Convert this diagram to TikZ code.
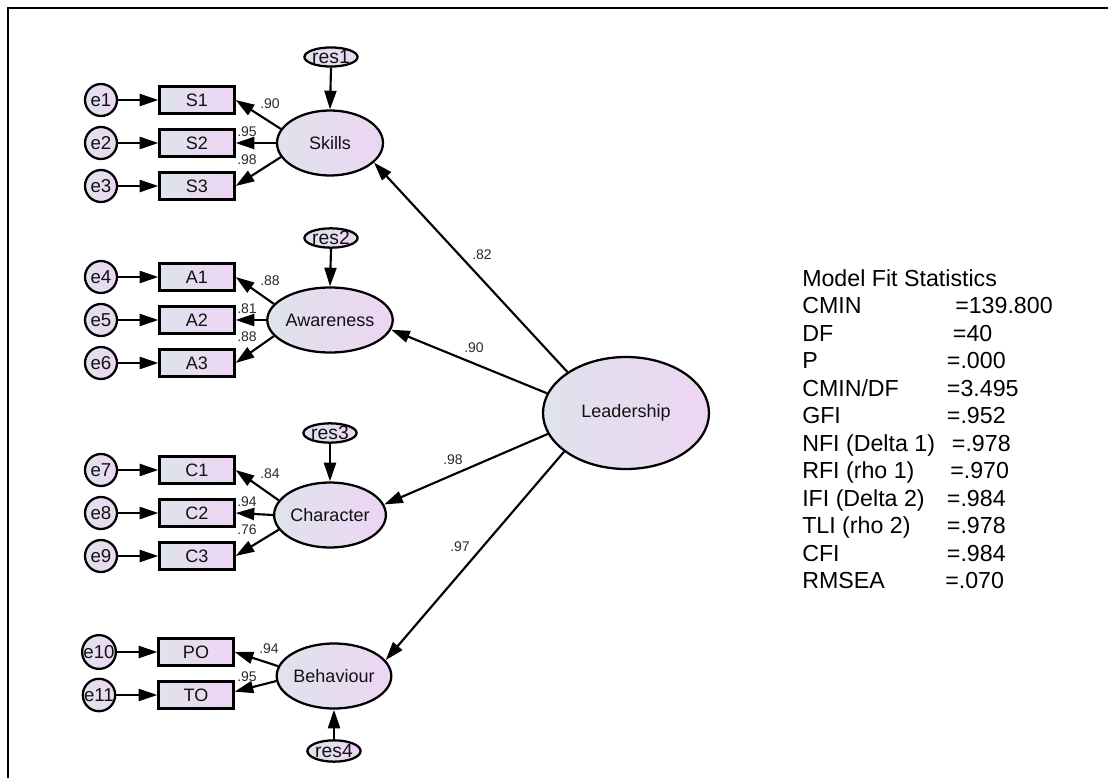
\documentclass[tikz,border=0pt]{standalone}
\usepackage{fontspec}
\setmainfont{Liberation Sans}
\usetikzlibrary{arrows.meta,shapes.geometric}
\definecolor{fillA}{HTML}{DFE3EC}
\definecolor{fillB}{HTML}{EDD5F3}
\definecolor{txt}{HTML}{111111}
\definecolor{lbltxt}{HTML}{2A2A2A}
\begin{document}
\begin{tikzpicture}[x=0.75pt,y=-0.75pt,
  shapebase/.style={draw=black, line width=1.7pt, left color=fillA, right color=fillB, inner sep=0pt, text=txt, font=\fontsize{13.5}{15}\selectfont},
  lat/.style={shapebase, ellipse, minimum width=79.5pt, minimum height=48.75pt},
  lead/.style={shapebase, ellipse, minimum width=124.5pt, minimum height=84pt},
  obs/.style={shapebase, rectangle, minimum width=56.25pt, minimum height=20.25pt},
  err/.style={shapebase, circle, minimum size=24pt, font=\fontsize{14}{15}\selectfont},
  resid/.style={shapebase, ellipse, minimum width=31.5pt, minimum height=14pt, font=\fontsize{14.5}{15}\selectfont},
  arr/.style={-{Triangle[length=14pt,width=9pt]}, line width=1.6pt},
  lbl/.style={inner sep=0pt, text=lbltxt, font=\fontsize{10.5}{12}\selectfont},
  stat/.style={anchor=base west, inner sep=0pt, text=black, font=\fontsize{17.4}{20}\selectfont}
]
\useasboundingbox (0,0) rectangle (1108,778);
\draw[line width=1.5pt] (8,778) -- (8,8) -- (1108,8);

% Leadership
\node[lead] (L) at (626,413) {Leadership};

% Skills block
\node[lat] (Sk) at (330,143) {Skills};
\node[resid] (r1) at (331,57) {res1};
\node[obs] (S1) at (197,100) {S1};
\node[obs] (S2) at (197,143) {S2};
\node[obs] (S3) at (197,186) {S3};
\node[err] (e1) at (101,100) {e1};
\node[err] (e2) at (101,143) {e2};
\node[err] (e3) at (101,186) {e3};

% Awareness block
\node[lat] (Aw) at (330,320) {Awareness};
\node[resid] (r2) at (331,238) {res2};
\node[obs] (A1) at (197,277) {A1};
\node[obs] (A2) at (197,320) {A2};
\node[obs] (A3) at (197,363) {A3};
\node[err] (e4) at (101,277) {e4};
\node[err] (e5) at (101,320) {e5};
\node[err] (e6) at (101,363) {e6};

% Character block
\node[lat] (Ch) at (330,515) {Character};
\node[resid] (r3) at (330,433) {res3};
\node[obs] (C1) at (197,470) {C1};
\node[obs] (C2) at (197,513) {C2};
\node[obs] (C3) at (197,556) {C3};
\node[err] (e7) at (101,470) {e7};
\node[err] (e8) at (101,513) {e8};
\node[err] (e9) at (101,556) {e9};

% Behaviour block
\node[lat] (Be) at (334,676) {Behaviour};
\node[resid, minimum height=16pt] (r4) at (334,751) {res4};
\node[obs] (PO) at (196,652) {PO};
\node[obs] (TO) at (196,695) {TO};
\node[err] (e10) at (99,652) {e10};
\node[err] (e11) at (99,695) {e11};

% error arrows
\foreach \e/\b in {e1/S1,e2/S2,e3/S3,e4/A1,e5/A2,e6/A3,e7/C1,e8/C2,e9/C3,e10/PO,e11/TO}
  \draw[arr] (\e.east) -- (\b.west);

% residual arrows
\draw[arr] (r1.south) -- (Sk.north);
\draw[arr] (r2.south) -- (Aw.north);
\draw[arr] (r3.south) -- (Ch.north);
\draw[arr] (r4.north) -- (Be.south);

% loadings
\draw[arr] (Sk.164) -- (S1.east);
\draw[arr] (Sk.180) -- (S2.east);
\draw[arr] (Sk.196) -- (S3.east);
\draw[arr] (Aw.164) -- (A1.east);
\draw[arr] (Aw.180) -- (A2.east);
\draw[arr] (Aw.196) -- (A3.east);
\draw[arr] (Ch.164) -- (C1.east);
\draw[arr] (Ch.180) -- (C2.east);
\draw[arr] (Ch.196) -- (C3.east);
\draw[arr] (Be.170) -- (PO.east);
\draw[arr] (Be.185) -- ([yshift=2.5pt]TO.east);

% structural paths
\draw[arr] (L.145.7) -- (Sk.-24);
\draw[arr] (L.166) -- (Aw.-9);
\draw[arr] (L.195) -- (Ch.11);
\draw[arr] (L.212.5) -- (Be.17);

% labels
\node[lbl] (l1) at (270,104) {.90};
\node[lbl] (l2) at (247,132) {.95};
\node[lbl] (l3) at (247,159.5) {.98};
\node[lbl] (l4) at (270,281) {.88};
\node[lbl] (l5) at (247,309) {.81};
\node[lbl] (l6) at (247,336.5) {.88};
\node[lbl] (l7) at (270,474) {.84};
\node[lbl] (l8) at (247,502) {.94};
\node[lbl] (l9) at (247,529.5) {.76};
\node[lbl] (l10) at (269,649) {.94};
\node[lbl] (l11) at (247,676.5) {.95};
\node[lbl] (l12) at (482,254.5) {.82};
\node[lbl] (l13) at (474,348) {.90};
\node[lbl] (l14) at (453,460) {.98};
\node[lbl] (l15) at (460,547) {.97};

% fit statistics
\node[stat] (t0) at (802,286) {Model Fit Statistics};
\node[stat] (t1) at (802,313.5) {CMIN};       \node[stat] (v1) at (955,313.5) {=139.800};
\node[stat] (t2) at (802,341) {DF};           \node[stat] (v2) at (952.7,341) {=40};
\node[stat] (t3) at (802,368.5) {P};          \node[stat] (v3) at (946.7,368.5) {=.000};
\node[stat] (t4) at (802,396) {CMIN/DF};      \node[stat] (v4) at (946.7,396) {=3.495};
\node[stat] (t5) at (802,423.5) {GFI};        \node[stat] (v5) at (946.7,423.5) {=.952};
\node[stat] (t6) at (802,451) {NFI (Delta 1)};\node[stat] (v6) at (951.7,451) {=.978};
\node[stat] (t7) at (802,478.5) {RFI (rho 1)};\node[stat] (v7) at (950,478.5) {=.970};
\node[stat] (t8) at (802,506) {IFI (Delta 2)};\node[stat] (v8) at (946.7,506) {=.984};
\node[stat] (t9) at (802,533.5) {TLI (rho 2)};\node[stat] (v9) at (946.7,533.5) {=.978};
\node[stat] (t10) at (802,561) {CFI};         \node[stat] (v10) at (946.7,561) {=.984};
\node[stat] (t11) at (802,588.5) {RMSEA};     \node[stat] (v11) at (945,588.5) {=.070};
\end{tikzpicture}
\end{document}
